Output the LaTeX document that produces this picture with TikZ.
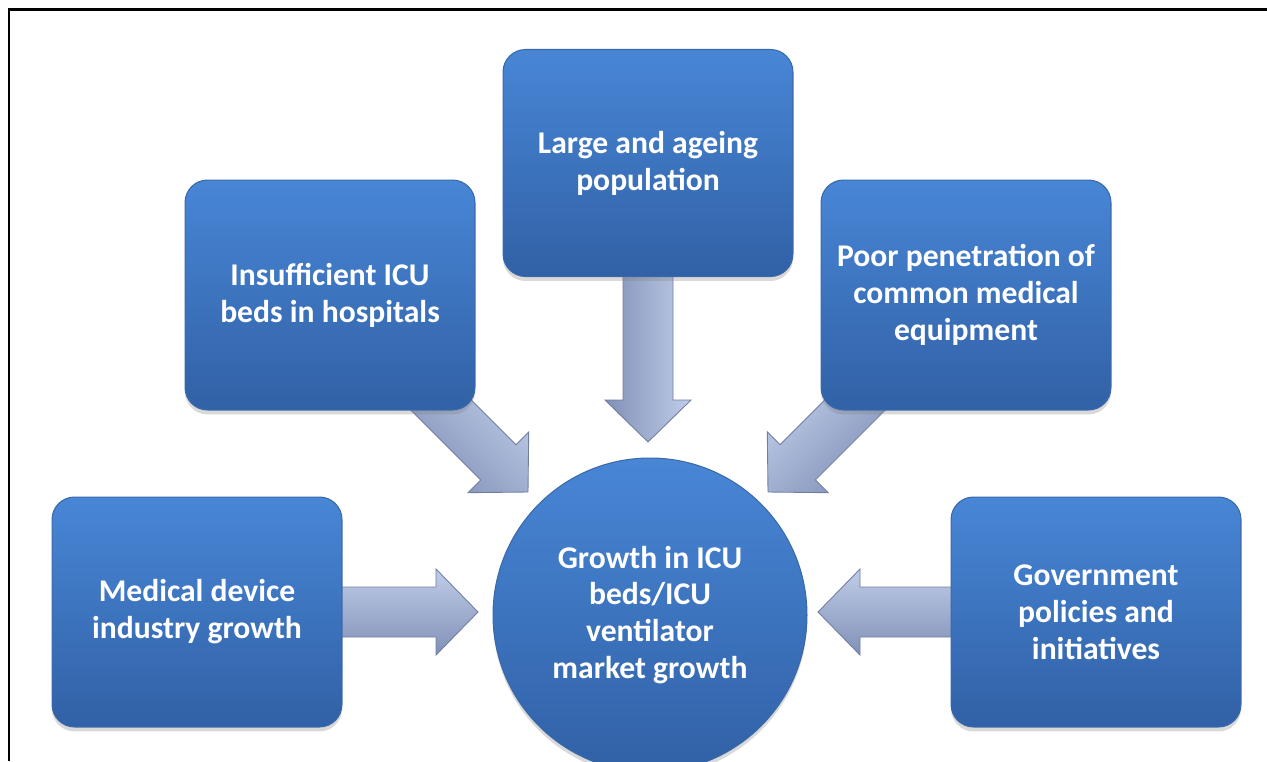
\documentclass[tikz,border=0pt]{standalone}
\usepackage{fontspec}
\setmainfont{Carlito}
\usetikzlibrary{calc,shadows,backgrounds}

\definecolor{boxtop}{RGB}{72,134,214}
\definecolor{boxbot}{RGB}{49,97,166}
\definecolor{boxedge}{RGB}{58,105,170}
\definecolor{arrowlt}{RGB}{192,205,233}
\definecolor{arrowdk}{RGB}{128,144,182}
\definecolor{arrowedge}{RGB}{112,126,162}

% block arrow: start, tip, shading angle
\newcommand{\fatarrow}[3]{%
  \coordinate (fa-h) at ($(#2)!0.84cm!(#1)$);
  \path[fatarrow, shading angle=#3]
    ($(#1)!0.5cm!90:(#2)$) -- ($(fa-h)!0.5cm!90:(#2)$) -- ($(fa-h)!0.86cm!90:(#2)$)
    -- (#2) -- ($(fa-h)!0.86cm!-90:(#2)$) -- ($(fa-h)!0.5cm!-90:(#2)$)
    -- ($(#1)!0.5cm!-90:(#2)$) -- cycle;
}

\begin{document}
\begin{tikzpicture}[x=0.02cm, y=-0.02cm,
    every node/.style={font=\fontsize{18}{21}\selectfont\bfseries, text=white, align=center},
    factor/.style={draw=boxedge, line width=0.6pt, rounded corners=0.45cm, top color=boxtop, bottom color=boxbot,
      minimum width=5.8cm, minimum height=4.6cm, drop shadow={opacity=0.3, shadow xshift=0pt, shadow yshift=-0.09cm}},
    hub/.style={circle, draw=boxedge, line width=0.6pt, top color=boxtop, bottom color=boxbot, minimum size=6.28cm,
      inner sep=0pt, drop shadow={opacity=0.3, shadow xshift=0pt, shadow yshift=-0.09cm}},
    fatarrow/.style={draw=arrowedge, line width=0.5pt, top color=arrowlt, bottom color=arrowdk}]
  \useasboundingbox (0,0) rectangle (1267,761);
  \clip (0,0) rectangle (1267,761);

  \node[factor, minimum height=4.54cm] (ageing) at (648,163) {Large and ageing\\population};
  \node[factor] (icu) at (330,295) {Insufficient ICU\\beds in hospitals};
  \node[factor] (equip) at (966,295) {Poor penetration of\\common medical\\equipment};
  \node[factor] (device) at (197,612) {Medical device\\industry growth};
  \node[factor] (policy) at (1096,612) {Government\\policies and\\initiatives};
  \node[hub] (growth) at (650,615) {Growth in ICU\\beds/ICU\\ventilator\\market growth};

  \coordinate (s-ageing) at ($(ageing.south)+(0,-10)$);
  \coordinate (t-ageing) at (648,442);
  \coordinate (s-icu) at ($(icu.south east)+(-55,-26)$);
  \coordinate (t-icu) at (528,492);
  \coordinate (s-equip) at ($(equip.south west)+(55,-26)$);
  \coordinate (t-equip) at (768,492);
  \coordinate (s-device) at ($(device.east)+(-10,0)$);
  \coordinate (t-device) at (478,612);
  \coordinate (s-policy) at ($(policy.west)+(10,0)$);
  \coordinate (t-policy) at (818,612);

  \begin{scope}[on background layer]
    \fatarrow{s-ageing}{t-ageing}{-90}
    \fatarrow{s-icu}{t-icu}{-45}
    \fatarrow{s-equip}{t-equip}{45}
    \fatarrow{s-device}{t-device}{0}
    \fatarrow{s-policy}{t-policy}{0}
  \end{scope}

  \draw[line width=0.06cm] (9,761) -- (9,9) -- (1267,9);
\end{tikzpicture}
\end{document}
